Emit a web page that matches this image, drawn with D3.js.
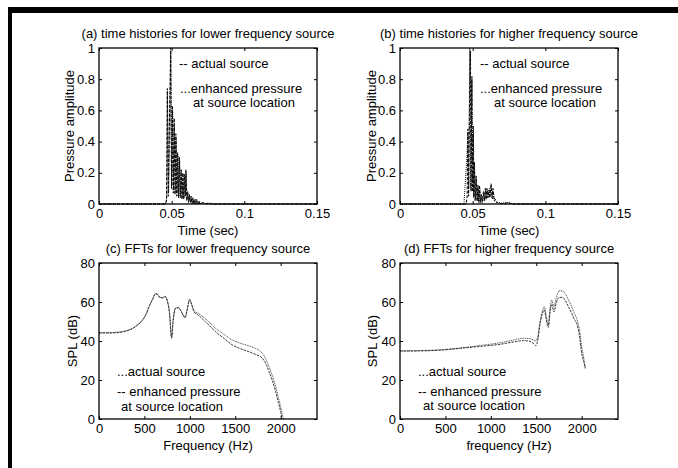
<!DOCTYPE html>
<html>
<head>
<meta charset="utf-8">
<script src="https://cdn.jsdelivr.net/npm/d3@7"></script>
<style>
  body { margin: 0; background: #fff; }
  svg text { font-family: "Liberation Sans", Arial, sans-serif; font-size: 13px; fill: #000; }
</style>
</head>
<body>
<div id="chart"></div>
<script>
// ---- data ----
// (a) lower frequency source, time histories [t (s), pressure]
const lowActual = [
  [0, 0], [0.0455, 0], [0.0465, 0.02], [0.0470, 0.74], [0.0477, 0.05], [0.0485, 0.55], [0.0493, 1.0],
  [0.0499, 0.1], [0.0505, 0.63], [0.0511, 0.07], [0.0517, 0.55], [0.0523, 0.06], [0.0529, 0.45],
  [0.0535, 0.05], [0.0541, 0.33], [0.0547, 0.04], [0.0553, 0.3], [0.0559, 0.04], [0.0565, 0.22],
  [0.0571, 0.03], [0.0577, 0.2], [0.0583, 0.03], [0.0589, 0.19], [0.0594, 0.05], [0.0598, 0.22],
  [0.0604, 0.02], [0.0610, 0.08], [0.0616, 0.01], [0.0622, 0.06], [0.0628, 0.01], [0.0634, 0.05],
  [0.0640, 0], [0.0646, 0.04], [0.0652, 0], [0.0658, 0.03], [0.0666, 0], [0.0672, 0.03], [0.0680, 0],
  [0.0688, 0.02], [0.0696, 0], [0.0710, 0.01], [0.0730, 0], [0.0750, 0.005], [0.0780, 0], [0.15, 0]
];
const lowEnhanced = [
  [0, 0], [0.0458, 0], [0.0467, 0.05], [0.0471, 0.72], [0.0479, 0.08], [0.0487, 0.5], [0.0494, 0.98],
  [0.0501, 0.12], [0.0507, 0.6], [0.0513, 0.1], [0.0519, 0.5], [0.0525, 0.08], [0.0531, 0.42],
  [0.0537, 0.07], [0.0543, 0.31], [0.0549, 0.05], [0.0555, 0.28], [0.0561, 0.05], [0.0567, 0.21],
  [0.0573, 0.04], [0.0579, 0.19], [0.0585, 0.04], [0.0591, 0.18], [0.0596, 0.06], [0.0600, 0.2],
  [0.0606, 0.03], [0.0612, 0.07], [0.0618, 0.02], [0.0624, 0.05], [0.0630, 0.01], [0.0636, 0.04],
  [0.0642, 0.01], [0.0648, 0.03], [0.0654, 0], [0.0662, 0.03], [0.0668, 0], [0.0676, 0.02], [0.0684, 0],
  [0.0692, 0.015], [0.0700, 0], [0.0720, 0.01], [0.0740, 0], [0.0760, 0.005], [0.0790, 0], [0.15, 0]
];
// (b) higher frequency source, time histories
const highActual = [
  [0, 0], [0.0455, 0], [0.0462, 0.05], [0.0467, 0.48], [0.0472, 0.05], [0.0478, 0.62], [0.0485, 0.98],
  [0.0489, 0.08], [0.0494, 0.8], [0.0499, 0.09], [0.0503, 0.45], [0.0507, 0.04], [0.0512, 0.27],
  [0.0517, 0.02], [0.0524, 0.18], [0.0530, 0.02], [0.0536, 0.12], [0.0542, 0.01], [0.0547, 0.12],
  [0.0553, 0.01], [0.0560, 0.06], [0.0566, 0.01], [0.0574, 0.08], [0.0580, 0.02], [0.0587, 0.1],
  [0.0592, 0.03], [0.0598, 0.1], [0.0604, 0.04], [0.0612, 0.09], [0.0618, 0.04], [0.0627, 0.13],
  [0.0633, 0.04], [0.0640, 0.1], [0.0648, 0.02], [0.0656, 0.03], [0.0664, 0.01], [0.0680, 0.005],
  [0.0720, 0], [0.0742, 0.01], [0.0770, 0], [0.15, 0]
];
const highEnhanced = [
  [0, 0], [0.0440, 0], [0.0460, 0.3], [0.0467, 0.45], [0.0473, 0.1], [0.0480, 1.0], [0.0487, 0.1],
  [0.0495, 0.82], [0.0500, 0.08], [0.0505, 0.5], [0.0509, 0.05], [0.0513, 0.25], [0.0519, 0.03],
  [0.0526, 0.16], [0.0532, 0.02], [0.0538, 0.11], [0.0544, 0.01], [0.0549, 0.1], [0.0556, 0.01],
  [0.0563, 0.05], [0.0569, 0.02], [0.0577, 0.07], [0.0583, 0.02], [0.0589, 0.09], [0.0595, 0.03],
  [0.0601, 0.09], [0.0607, 0.04], [0.0615, 0.1], [0.0621, 0.05], [0.0629, 0.12], [0.0636, 0.03],
  [0.0642, 0.08], [0.0650, 0.02], [0.0660, 0.02], [0.0670, 0.01], [0.0700, 0.005], [0.0730, 0.01],
  [0.0760, 0.005], [0.0790, 0], [0.15, 0]
];
// (c) FFTs for lower frequency source [Hz, dB]
const lowFftActual = [
  [0, 44.3], [100, 44.3], [220, 44.6], [300, 45.3], [367, 46.5], [420, 48.2], [477, 50.8], [520, 54],
  [550, 57.6], [590, 61.5], [624, 64.4], [650, 63.8], [672, 62.4], [700, 62.3], [727, 63], [750, 61],
  [775, 55], [800, 41.4], [815, 50], [844, 57], [870, 57.2], [899, 55.8], [925, 53.5], [947, 52.1],
  [970, 56], [998, 61.4], [1020, 59], [1046, 55.6], [1101, 54], [1150, 52.2], [1200, 50.3],
  [1284, 46.5], [1380, 43.3], [1468, 40.5], [1560, 38.8], [1650, 37.5], [1725, 36.2], [1770, 35],
  [1798, 33.7], [1840, 30.5], [1872, 26.8], [1910, 22], [1945, 16.6], [1975, 11], [2000, 6.3], [2030, 0]
];
const lowFftEnhanced = [
  [0, 44.1], [100, 44.1], [220, 44.4], [300, 45.1], [367, 46.3], [420, 48], [477, 50.6], [520, 53.8],
  [550, 57.4], [590, 61.3], [624, 64.2], [650, 63.6], [672, 62.2], [700, 62.1], [727, 62.8], [750, 60.8],
  [775, 54.8], [800, 41.8], [815, 49.8], [844, 56.8], [870, 57], [899, 55.6], [925, 53.3], [947, 51.9],
  [970, 55.8], [998, 61.2], [1020, 58.6], [1046, 55], [1101, 53], [1150, 50.8], [1200, 48.6],
  [1284, 44.8], [1380, 41.2], [1468, 38], [1560, 36], [1650, 34.5], [1725, 33.1], [1770, 32.2],
  [1798, 31.2], [1840, 28], [1872, 24.3], [1910, 19.5], [1945, 14], [1975, 8.5], [2000, 3.7], [2015, 0]
];
// (d) FFTs for higher frequency source
const highFftActual = [
  [0, 35], [200, 35.1], [367, 35.3], [550, 35.9], [734, 36.8], [900, 37.8], [1101, 39.1], [1250, 40.5],
  [1358, 41.4], [1430, 41.2], [1468, 40.5], [1497, 40], [1515, 42], [1541, 49.9], [1565, 55],
  [1589, 57.6], [1610, 53], [1633, 48.2], [1650, 56], [1670, 61], [1695, 57.6], [1720, 62],
  [1754, 65.8], [1790, 65.6], [1817, 64.4], [1850, 61.5], [1890, 57.6], [1920, 54], [1945, 51.6],
  [1975, 46], [2000, 37], [2020, 32], [2040, 26]
];
const highFftEnhanced = [
  [0, 34.8], [200, 34.9], [367, 35.1], [550, 35.7], [734, 36.6], [900, 37.3], [1101, 38.3], [1250, 39.5],
  [1358, 40.2], [1430, 39.8], [1468, 38.8], [1497, 37.6], [1515, 40], [1541, 48.5], [1565, 53.5],
  [1589, 56], [1610, 51], [1633, 47], [1650, 54], [1670, 59], [1695, 55], [1720, 59.5],
  [1754, 62.4], [1790, 62.3], [1817, 61], [1850, 58], [1890, 54.2], [1920, 51], [1945, 49],
  [1975, 43], [2000, 33.7], [2020, 30], [2040, 26]
];

const timeTicks = [0, 0.05, 0.1, 0.15];
const ampTicks = [0, 0.2, 0.4, 0.6, 0.8, 1];
const freqTicks = [0, 500, 1000, 1500, 2000];
const splTicks = [0, 20, 40, 60, 80];

const width = 678, height = 468;
const svg = d3.select("#chart").append("svg")
  .attr("width", width)
  .attr("height", height);

// black frame strips (top and left)
svg.append("rect").attr("x", 8).attr("y", 7).attr("width", width - 8).attr("height", 6).attr("fill", "#000");
svg.append("rect").attr("x", 8).attr("y", 7).attr("width", 4).attr("height", height - 7).attr("fill", "#000");

function drawPanel(opt) {
  const x = d3.scaleLinear().domain(opt.xDomain).range([opt.left, opt.right]);
  const y = d3.scaleLinear().domain(opt.yDomain).range([opt.bottom, opt.top]);
  const g = svg.append("g");

  // inward ticks on all four sides
  g.append("g")
    .attr("transform", "translate(0," + opt.bottom + ")")
    .call(d3.axisBottom(x).tickValues(opt.xTicks).tickSize(-3).tickPadding(5)
      .tickFormat(d3.format(opt.xFormat)));
  g.append("g")
    .attr("transform", "translate(0," + opt.top + ")")
    .call(d3.axisTop(x).tickValues(opt.xTicks).tickSize(-3).tickFormat(""));
  g.append("g")
    .attr("transform", "translate(" + opt.left + ",0)")
    .call(d3.axisLeft(y).tickValues(opt.yTicks).tickSize(-3).tickPadding(4)
      .tickFormat(d3.format(opt.yFormat)));
  g.append("g")
    .attr("transform", "translate(" + opt.right + ",0)")
    .call(d3.axisRight(y).tickValues(opt.yTicks).tickSize(-3).tickFormat(""));
  g.selectAll(".domain").remove();
  g.selectAll(".tick line").attr("stroke", "#000");
  g.selectAll(".tick text").style("font-size", "13px");

  // series
  const line = d3.line().x(d => x(d[0])).y(d => y(d[1])).curve(opt.curve);
  opt.series.forEach(s => {
    g.append("path")
      .datum(s.data)
      .attr("d", line)
      .attr("fill", "none")
      .attr("stroke", s.color)
      .attr("stroke-width", s.width)
      .attr("stroke-dasharray", s.dash);
  });

  // frame
  g.append("rect")
    .attr("x", opt.left).attr("y", opt.top)
    .attr("width", opt.right - opt.left).attr("height", opt.bottom - opt.top)
    .attr("fill", "none").attr("stroke", "#000").attr("stroke-width", 1.3);

  // title and axis labels
  g.append("text")
    .attr("x", (opt.left + opt.right) / 2).attr("y", opt.top - 15)
    .attr("dy", "0.35em").attr("text-anchor", "middle")
    .text(opt.title);
  g.append("text")
    .attr("x", (opt.left + opt.right) / 2).attr("y", opt.bottom + 26)
    .attr("dy", "0.35em").attr("text-anchor", "middle")
    .text(opt.xLabel);
  g.append("text")
    .attr("transform", "translate(" + opt.yLabelX + "," + ((opt.top + opt.bottom) / 2) + ") rotate(-90)")
    .attr("dy", "0.35em").attr("text-anchor", "middle")
    .text(opt.yLabel);

  opt.notes.forEach(n => {
    g.append("text").attr("x", n[0]).attr("y", n[1]).attr("dy", "0.35em").text(n[2]);
  });
}

const timeStyle = [
  { color: "#000", width: 1, dash: "3,1.5" },
  { color: "#111", width: 1, dash: "1,1" }
];
const fftStyle = [
  { color: "#333", width: 0.9, dash: "1,0.8" },
  { color: "#222", width: 0.9, dash: "2.5,1" }
];

drawPanel({
  left: 99, right: 317, top: 48, bottom: 204,
  xDomain: [0, 0.15], yDomain: [0, 1], xTicks: timeTicks, yTicks: ampTicks,
  xFormat: "", yFormat: "", curve: d3.curveLinear,
  title: "(a) time histories for lower frequency source",
  xLabel: "Time (sec)", yLabel: "Pressure amplitude", yLabelX: 69,
  series: [
    Object.assign({ data: lowActual }, timeStyle[0]),
    Object.assign({ data: lowEnhanced }, timeStyle[1])
  ],
  notes: [[179, 63, "-- actual source"], [180, 88, "...enhanced pressure"], [193, 102, "at source location"]]
});

drawPanel({
  left: 400, right: 618, top: 48, bottom: 204,
  xDomain: [0, 0.15], yDomain: [0, 1], xTicks: timeTicks, yTicks: ampTicks,
  xFormat: "", yFormat: "", curve: d3.curveLinear,
  title: "(b) time histories for higher frequency source",
  xLabel: "Time (sec)", yLabel: "Pressure amplitude", yLabelX: 371,
  series: [
    Object.assign({ data: highActual }, timeStyle[0]),
    Object.assign({ data: highEnhanced }, timeStyle[1])
  ],
  notes: [[480, 63, "-- actual source"], [480, 88, "...enhanced pressure"], [494, 102, "at source location"]]
});

drawPanel({
  left: 99, right: 317, top: 263, bottom: 419,
  xDomain: [0, 2400], yDomain: [0, 80], xTicks: freqTicks, yTicks: splTicks,
  xFormat: "d", yFormat: "d", curve: d3.curveMonotoneX,
  title: "(c) FFTs for lower frequency source",
  xLabel: "Frequency (Hz)", yLabel: "SPL (dB)", yLabelX: 72,
  series: [
    Object.assign({ data: lowFftActual }, fftStyle[0]),
    Object.assign({ data: lowFftEnhanced }, fftStyle[1])
  ],
  notes: [[117, 371, "...actual source"], [117, 391, "-- enhanced pressure"], [121, 406, "at source location"]]
});

drawPanel({
  left: 400, right: 618, top: 263, bottom: 419,
  xDomain: [0, 2400], yDomain: [0, 80], xTicks: freqTicks, yTicks: splTicks,
  xFormat: "d", yFormat: "d", curve: d3.curveMonotoneX,
  title: "(d) FFTs for higher frequency source",
  xLabel: "frequency (Hz)", yLabel: "SPL (dB)", yLabelX: 372,
  series: [
    Object.assign({ data: highFftActual }, fftStyle[0]),
    Object.assign({ data: highFftEnhanced }, fftStyle[1])
  ],
  notes: [[418, 371, "...actual source"], [418, 391, "-- enhanced pressure"], [423, 405, "at source location"]]
});
</script>
</body>
</html>
